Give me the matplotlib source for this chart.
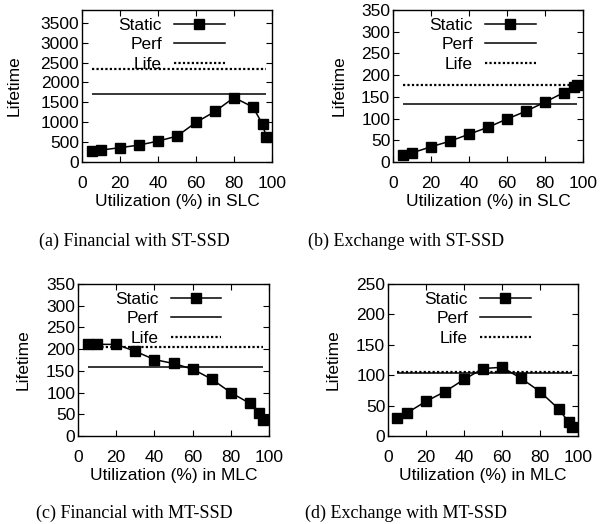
import matplotlib
matplotlib.use("Agg")
import matplotlib.pyplot as plt
from matplotlib.lines import Line2D

plt.rcParams['font.family'] = ['Liberation Sans', 'DejaVu Sans']
plt.rcParams['font.size'] = 12.5

# utilization points (%)
util_st = [5, 10, 20, 30, 40, 50, 60, 70, 80, 90, 95, 97]
util_mt = [5, 10, 20, 30, 40, 50, 60, 70, 80, 90, 95, 97]

# (a) Financial with ST-SSD
fin_st_static = [280, 300, 360, 425, 525, 650, 995, 1270, 1620, 1380, 950, 625]
fin_st_perf = 1700
fin_st_life = 2330

# (b) Exchange with ST-SSD
exc_st_static = [16, 21, 35, 48, 64, 80, 99, 117, 138, 160, 172, 177]
exc_st_perf = 133
exc_st_life = 178

# (c) Financial with MT-SSD
fin_mt_static = [211, 211, 211, 195, 176, 167, 154, 131, 100, 75, 53, 36]
fin_mt_perf = 159
fin_mt_life = 204

# (d) Exchange with MT-SSD
exc_mt_static = [29, 38, 57, 73, 93, 111, 113, 95, 73, 44, 23, 15]
exc_mt_perf = 103
exc_mt_life = 106

W, H = 600, 524
fig = plt.figure(figsize=(W / 100, H / 100), dpi=100)


def panel(box, x, static, perf, life, ymax, ystep, xlabel, ylab_x, caption, cap_xy):
       l, r, t, b = box
       ax = fig.add_axes([l / W, 1 - b / H, (r - l) / W, (b - t) / H])
       ax.hlines(life, x[0], x[-1], colors='black', linewidth=1.6, linestyles=(0, (1, 1)))
       ax.hlines(perf, x[0], x[-1], colors='black', linewidth=1.1)
       ax.plot(x, static, color='black', linewidth=1.1, marker='s', markersize=7, zorder=3)
       ax.set_xlim(0, 100)
       ax.set_ylim(0, ymax)
       ax.set_xticks(range(0, 101, 20))
       ax.set_yticks([v for v in range(0, int(ymax) + 1, ystep) if v <= ymax])
       ax.tick_params(direction='in', top=True, right=True, length=4, width=0.8)
       ax.tick_params(axis='x', pad=10)
       ax.tick_params(axis='y', pad=2)
       ax.set_xlabel(xlabel)
       ax.set_ylabel('Lifetime')
       ax.xaxis.set_label_coords(0.5, -0.21)
       ax.yaxis.set_label_coords(ylab_x, 0.5)
       for s in ax.spines.values():
              s.set_linewidth(1.0)
       handles = [Line2D([], [], color='black', linewidth=1.1, marker='s', markersize=7),
                  Line2D([], [], color='black', linewidth=1.1),
                  Line2D([], [], color='black', linewidth=1.6, linestyle=(0, (1, 1)))]
       ax.legend(handles, ['Static', 'Perf', 'Life'], loc='upper right',
                 bbox_to_anchor=(0.75, 0.95), frameon=False, markerfirst=False,
                 handlelength=2.9, handletextpad=0.7, labelspacing=0.25,
                 borderpad=0, borderaxespad=0)
       fig.text(cap_xy[0] / W, 1 - cap_xy[1] / H, caption, ha='center', va='center',
                family=['Liberation Serif', 'DejaVu Serif'], fontsize=13)
       return ax


panel((82, 272, 10, 162), util_st, fin_st_static, fin_st_perf, fin_st_life, 3820, 500,
      'Utilization (%) in SLC', -0.316, '(a) Financial with ST-SSD', (134, 241))
panel((393, 583, 10, 162), util_st, exc_st_static, exc_st_perf, exc_st_life, 350, 50,
      'Utilization (%) in SLC', -0.242, '(b) Exchange with ST-SSD', (406, 241))
panel((78, 269, 284, 436), util_mt, fin_mt_static, fin_mt_perf, fin_mt_life, 350, 50,
      'Utilization (%) in MLC', -0.246, '(c) Financial with MT-SSD', (134, 513))
panel((388, 578, 284, 436), util_mt, exc_mt_static, exc_mt_perf, exc_mt_life, 250, 50,
      'Utilization (%) in MLC', -0.247, '(d) Exchange with MT-SSD', (406, 513))

fig.savefig('out.png', dpi=100)
